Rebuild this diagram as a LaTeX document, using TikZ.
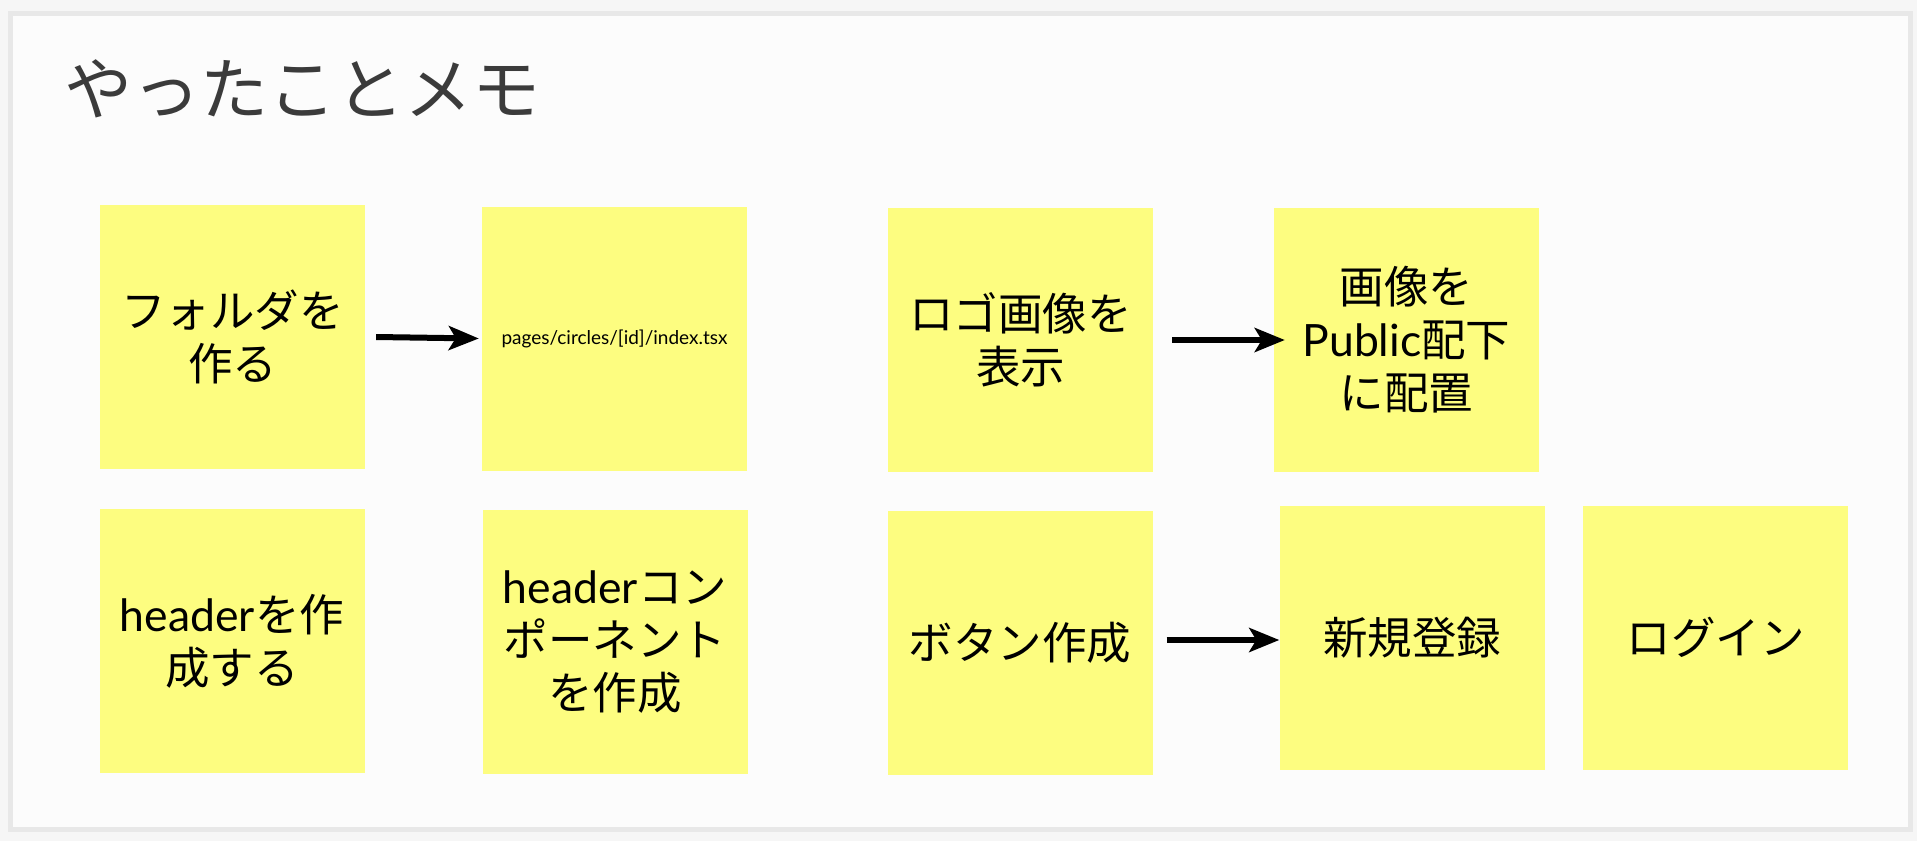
\documentclass[tikz,border=0pt]{standalone}
\usepackage{fontspec}
\setmainfont{Noto Sans CJK JP}
\newfontfamily\latinfont{Lato}
\usetikzlibrary{arrows.meta}
\definecolor{sticky}{RGB}{253,253,128}
\definecolor{framegray}{RGB}{232,232,232}
\definecolor{innerbg}{RGB}{252,252,252}
\definecolor{outerbg}{RGB}{246,246,246}
\definecolor{titlegray}{RGB}{59,59,59}
\tikzset{
  sticky note/.style={fill=sticky, draw=none, minimum width=265pt, minimum height=264pt,
    inner sep=0pt, align=center, font=\fontsize{44.5}{53}\selectfont, text=black},
  flow arrow/.style={line width=6pt, -{Stealth[length=30pt,width=24pt,inset=7pt]}, black}
}
\begin{document}
\begin{tikzpicture}[x=1pt,y=-1pt]
\useasboundingbox (0,0) rectangle (1917,841);
\fill[outerbg] (0,0) rectangle (1917,841);
\draw[framegray, fill=innerbg, line width=5pt] (10.5,13.5) rectangle (1910,829.5);
\node[anchor=west, inner sep=0pt, text=titlegray, font=\fontsize{68}{80}\selectfont] (title) at (64,89) {やったことメモ};

\node[sticky note] (b1) at (232.5,337) {フォルダを\\作る};
\node[sticky note] (b2) at (614.5,338.5) {\fontsize{19}{22}\selectfont\latinfont pages/circles/[id]/index.tsx};
\node[sticky note] (b3) at (1020.5,340) {ロゴ画像を\\表示};
\node[sticky note] (b4) at (1406.5,340) {画像を\\{\latinfont Public}配下\\に配置};
\node[sticky note] (b5) at (232,641) {{\latinfont header}を作\\成する};
\node[sticky note] (b6) at (615,642) {{\latinfont header}コン\\ポーネント\\を作成};
\node[sticky note] (b7) at (1020,643) {ボタン作成};
\node[sticky note] (b8) at (1412,637.5) {新規登録};
\node[sticky note] (b9) at (1715.5,637.5) {ログイン};

\draw[flow arrow] ([xshift=11pt]b1.east) -- ([xshift=-3pt]b2.west);
\draw[flow arrow] ([xshift=19pt]b3.east) -- ([xshift=11pt]b4.west);
\draw[flow arrow] ([xshift=14pt,yshift=3pt]b7.east) -- ([yshift=-2.5pt]b8.west);
\end{tikzpicture}
\end{document}
